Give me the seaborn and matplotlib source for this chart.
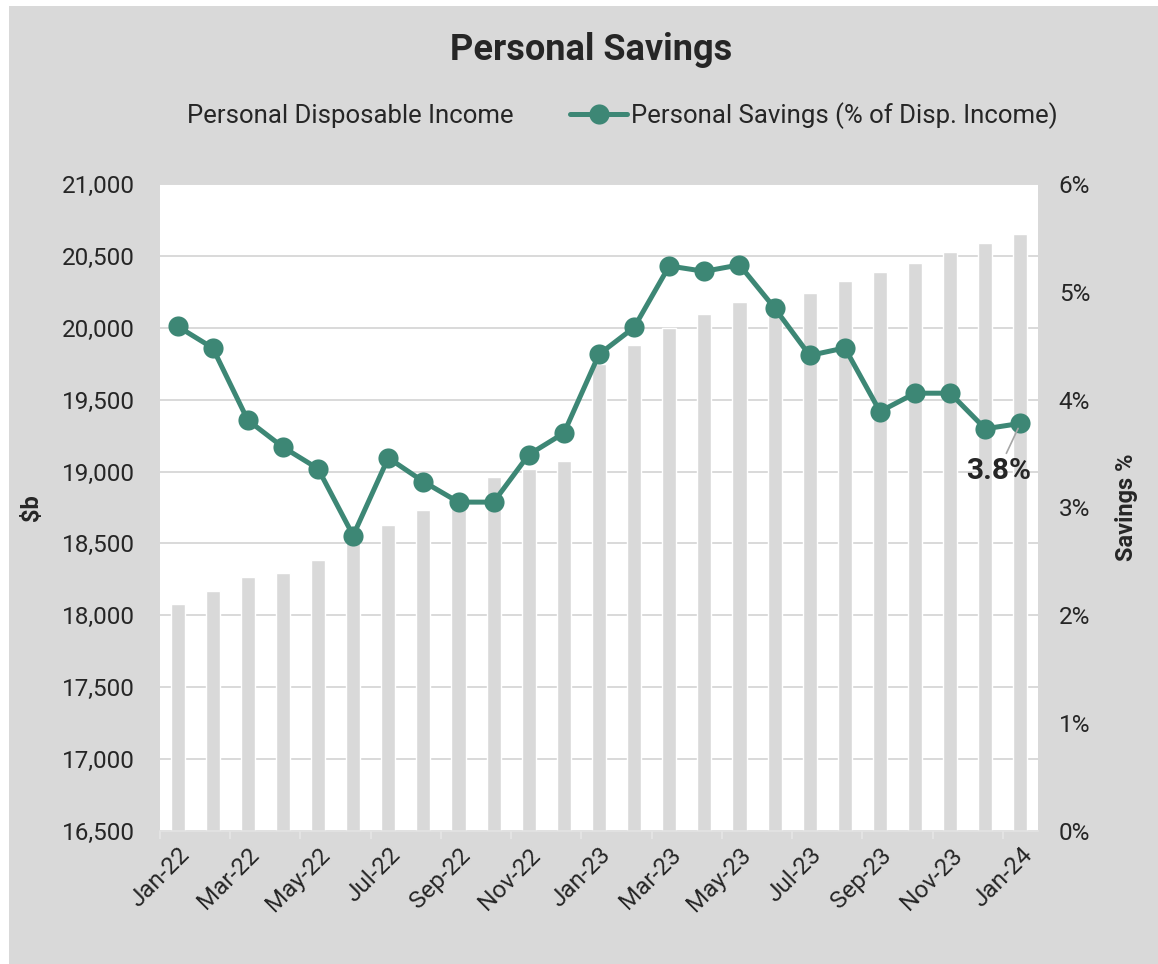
import numpy as np
import pandas as pd
import matplotlib
matplotlib.use("Agg")
import matplotlib.pyplot as plt
from matplotlib.patches import Patch, Rectangle
from matplotlib.lines import Line2D
from matplotlib.ticker import FuncFormatter, FixedLocator
import seaborn as sns

# Monthly data, Jan-22 .. Jan-24
months = ["Jan-22", "Feb-22", "Mar-22", "Apr-22", "May-22", "Jun-22", "Jul-22",
          "Aug-22", "Sep-22", "Oct-22", "Nov-22", "Dec-22", "Jan-23", "Feb-23",
          "Mar-23", "Apr-23", "May-23", "Jun-23", "Jul-23", "Aug-23", "Sep-23",
          "Oct-23", "Nov-23", "Dec-23", "Jan-24"]

# Personal disposable income, $b
disposable_income = [18080, 18170, 18265, 18295, 18385, 18520, 18630, 18735,
                     18830, 18960, 19020, 19075, 19750, 19880, 20000, 20095,
                     20180, 20210, 20240, 20325, 20390, 20450, 20525, 20590,
                     20655]

# Personal savings rate, % of disposable income
savings_rate = [4.68, 4.48, 3.81, 3.56, 3.36, 2.74, 3.46, 3.24, 3.05, 3.05,
                3.49, 3.69, 4.42, 4.67, 5.24, 5.19, 5.25, 4.85, 4.41, 4.48,
                3.89, 4.06, 4.06, 3.73, 3.78]

label_every = 2
latest_label = "3.8%"

BG = "#d9d9d9"
BAR = "#d9d9d9"
GREEN = "#3d8775"
TEXT = "#262626"

sns.set_theme(style="white")
plt.rcParams["font.family"] = ["Roboto", "DejaVu Sans"]

df = pd.DataFrame({"month": months, "income": disposable_income,
                   "savings": savings_rate, "pos": np.arange(len(months))})

fig = plt.figure(figsize=(11.58, 9.64), dpi=100)
fig.patch.set_facecolor("white")
fig.patches.append(Rectangle((9 / 1158, 0), 1, 1 - 6 / 964,
                             transform=fig.transFigure, facecolor=BG,
                             edgecolor="none", zorder=-10))

ax = fig.add_axes([160 / 1158, 1 - 831 / 964, 878 / 1158, 647 / 964])
ax.set_facecolor("white")

sns.barplot(data=df, x="month", y="income", color=BAR, saturation=1,
            width=0.4, ax=ax, zorder=2)
ax.set_ylim(16500, 21000)
ax.set_xlim(-0.5, len(months) - 0.5)
ax.yaxis.set_major_locator(FixedLocator(np.arange(16500, 21001, 500)))
ax.yaxis.set_major_formatter(FuncFormatter(lambda v, p: f"{v:,.0f}"))
ax.grid(axis="y", color=BG, linewidth=1.4, zorder=0)
ax.set_axisbelow(True)
for s in ["top", "left", "right"]:
    ax.spines[s].set_visible(False)
ax.spines["bottom"].set_color("#e3e3e3")
ax.spines["bottom"].set_linewidth(1.2)

tick_pos = list(range(0, len(months), label_every))
ax.set_xticks(tick_pos)
ax.set_xticklabels([months[i] for i in tick_pos], rotation=45, ha="right",
                   rotation_mode="anchor", fontsize=17.5, color=TEXT)
ax.set_xticks(np.arange(-0.5, len(months) - 1, label_every), minor=True)
ax.tick_params(axis="x", which="major", length=0, pad=9)
ax.tick_params(axis="x", which="minor", length=6, width=1.2, color="#e6e6e6",
               bottom=True)
ax.tick_params(axis="y", length=0, pad=18, labelsize=17.5, labelcolor=TEXT)
ax.set_xlabel("")
ax.set_ylabel("$b", fontsize=17, fontweight="bold", color=TEXT, labelpad=14)

ax2 = ax.twinx()
sns.lineplot(data=df, x="pos", y="savings", color=GREEN, linewidth=3.6,
             marker="o", markersize=14.5, markeredgewidth=0, ax=ax2, zorder=5)
ax2.set_ylim(0, 6)
ax2.yaxis.set_major_locator(FixedLocator(np.arange(0, 7, 1)))
ax2.yaxis.set_major_formatter(FuncFormatter(lambda v, p: f"{v:.0f}%"))
ax2.tick_params(axis="y", length=0, pad=15, labelsize=17.5, labelcolor=TEXT)
ax2.set_ylabel("Savings %", fontsize=17, fontweight="bold", color=TEXT,
               labelpad=18)
ax2.set_xlabel("")
for s in ax2.spines.values():
    s.set_visible(False)
ax.set_xlim(-0.5, len(months) - 0.5)

ax2.annotate(latest_label, xy=(df["pos"].iloc[-1], savings_rate[-1]),
             xytext=(-16, -34), textcoords="offset points",
             ha="center", va="center", fontsize=21.5, fontweight="bold",
             color=TEXT,
             arrowprops=dict(arrowstyle="-", color="#a6a6a6", lw=1.2,
                             shrinkA=0, shrinkB=4), zorder=6)

handles = [Patch(facecolor=BAR, edgecolor="none"),
           Line2D([0], [0], color=GREEN, lw=3.6, marker="o", markersize=14.5,
                  markeredgewidth=0)]
labels = ["Personal Disposable Income", "Personal Savings (% of Disp. Income)"]
fig.legend(handles, labels, loc="center", bbox_to_anchor=(592 / 1158, 1 - 116 / 964),
           ncol=2, frameon=False, fontsize=18.5, handlelength=2.2,
           handletextpad=0.15, columnspacing=2.2, labelcolor=TEXT)

fig.text(591 / 1158, 1 - 50 / 964, "Personal Savings", ha="center", va="center",
         fontsize=26, fontweight="bold", color=TEXT)

fig.savefig("out.png", dpi=100, facecolor=fig.get_facecolor())
